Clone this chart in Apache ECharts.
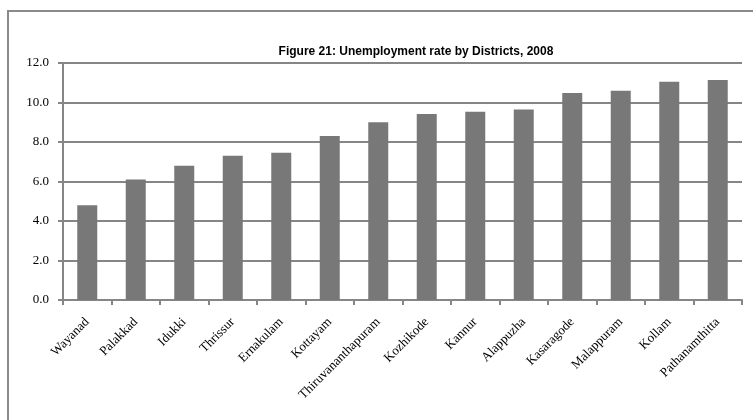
<!DOCTYPE html>
<html>
<head>
<meta charset="utf-8">
<script src="https://cdn.jsdelivr.net/npm/echarts@6/dist/echarts.min.js"></script>
<style>
html,body{margin:0;padding:0;background:#fff;}
#c{width:753px;height:420px;}
</style>
</head>
<body>
<div id="c"></div>
<script>
var titleText = 'Figure 21: Unemployment rate by Districts, 2008';
var districts = ['Wayanad','Palakkad','Idukki','Thrissur','Ernakulam','Kottayam','Thiruvananthapuram','Kozhikode','Kannur','Alappuzha','Kasaragode','Malappuram','Kollam','Pathanamthitta'];
var unemploymentRate = [4.8, 6.1, 6.8, 7.3, 7.45, 8.3, 9.0, 9.42, 9.53, 9.64, 10.48, 10.6, 11.05, 11.14];
var yMin = 0, yMax = 12, yStep = 2;

var chart = echarts.init(document.getElementById('c'), null, {renderer:'canvas'});
chart.setOption({
  animation: false,
  backgroundColor: '#ffffff',
  graphic: [{
    type: 'rect',
    shape: {x: 8, y: 11, width: 800, height: 440},
    style: {fill: 'none', stroke: '#8a8a8a', lineWidth: 2},
    silent: true
  }],
  title: {
    text: titleText,
    left: 411,
    textAlign: 'center',
    top: 41,
    textStyle: {fontFamily: '"Liberation Sans", Arial, sans-serif', fontWeight: 'bold', fontSize: 12, color: '#000'}
  },
  grid: {left: 63, right: 11, top: 63, bottom: 120, containLabel: false},
  xAxis: {
    type: 'category',
    data: districts,
    boundaryGap: true,
    axisLine: {lineStyle: {color: '#868686', width: 2}},
    axisTick: {show: true, length: 5, inside: false, lineStyle: {color: '#868686', width: 2}},
    axisLabel: {
      interval: 0, rotate: 45, margin: 20,
      fontFamily: '"Liberation Serif", "Times New Roman", serif', fontSize: 13, color: '#000'
    }
  },
  yAxis: {
    type: 'value',
    min: yMin, max: yMax, interval: yStep,
    axisLine: {show: true, lineStyle: {color: '#868686', width: 2}},
    axisTick: {show: true, length: 5, lineStyle: {color: '#868686', width: 2}},
    splitLine: {show: true, lineStyle: {color: '#868686', width: 2}},
    axisLabel: {
      formatter: function(v){ return v.toFixed(1); },
      margin: 14,
      fontFamily: '"Liberation Serif", "Times New Roman", serif', fontSize: 13, color: '#000'
    }
  },
  series: [{
    type: 'bar',
    data: unemploymentRate,
    barWidth: 20,
    itemStyle: {color: '#787878'}
  }]
});
</script>
</body>
</html>
